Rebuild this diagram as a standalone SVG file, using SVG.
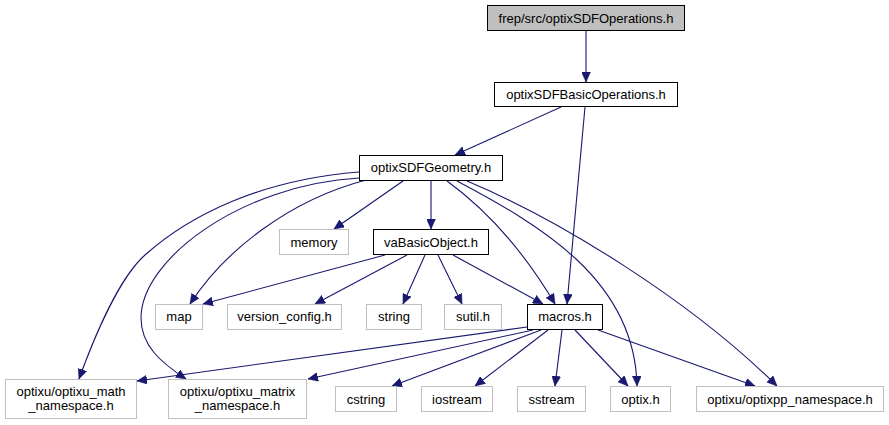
<svg xmlns="http://www.w3.org/2000/svg" width="889" height="425" viewBox="0 0 889 425">
<style>
.n rect{fill:#ffffff;stroke:#000000;stroke-width:1}
.x rect{fill:#ffffff;stroke:#bfbfbf;stroke-width:1}
.g rect{fill:#bfbfbf;stroke:#000000;stroke-width:1}
text{font-family:"Liberation Sans",Arial,Helvetica,sans-serif;font-size:13px;fill:#000000;text-anchor:middle}
#edges path{fill:none;stroke:#191970;stroke-width:1.1;marker-end:url(#ah)}
</style>
<defs>
<marker id="ah" viewBox="0 0 10 9" refX="10" refY="4.5" markerWidth="10" markerHeight="9" markerUnits="userSpaceOnUse" orient="auto">
<polygon points="0,0 10,4.5 0,9" fill="#191970" stroke="#191970" stroke-width="0.5"/>
</marker>
</defs>
<rect width="889" height="425" fill="#ffffff"/>
<g id="edges">
<path d="M586,31 L586,82"/>
<path d="M561,107 L455,155"/>
<path d="M585,107 L567,304"/>
<path d="M403,181 L334,229"/>
<path d="M431,180 L431,229"/>
<path d="M366,180 C290,200 225,250 190,304"/>
<path d="M359,172 C260,180 190,215 145,255 C120,277 95,335 79,379"/>
<path d="M359,178 C240,185 141,260 141,318 C141,345 160,362 186,379"/>
<path d="M447,181 C480,205 520,245 555,304"/>
<path d="M457,181 C540,225 635,280 637,386"/>
<path d="M467,181 C560,220 690,300 777,386"/>
<path d="M385,255 L203,304"/>
<path d="M407,255 L315,304"/>
<path d="M425,255 L403,304"/>
<path d="M438,255 L462,304"/>
<path d="M453,255 L543,304"/>
<path d="M527,327 L137,381"/>
<path d="M533,330 L308,379"/>
<path d="M541,330 L392,386"/>
<path d="M548,330 L475,386"/>
<path d="M562,330 L555,386"/>
<path d="M575,330 L628,386"/>
<path d="M598,330 L755,386"/>
</g>
<g id="n_ops" class="g"><rect x="487.5" y="5.5" width="197" height="25"/><text x="586" y="22.5">frep/src/optixSDFOperations.h</text></g>
<g id="n_basic" class="n"><rect x="494.5" y="82.5" width="183" height="24"/><text x="586" y="98.5">optixSDFBasicOperations.h</text></g>
<g id="n_geom" class="n"><rect x="359.5" y="155.5" width="143" height="25"/><text x="431" y="172">optixSDFGeometry.h</text></g>
<g id="n_vabasic" class="n"><rect x="373.5" y="229.5" width="115" height="25"/><text x="431" y="246.5">vaBasicObject.h</text></g>
<g id="n_memory" class="x"><rect x="279.5" y="229.5" width="69" height="25"/><text x="314" y="246.5">memory</text></g>
<g id="n_map" class="x"><rect x="155.5" y="304.5" width="47" height="25"/><text x="179" y="321">map</text></g>
<g id="n_version" class="x"><rect x="227.5" y="304.5" width="114" height="25"/><text x="284.5" y="321">version_config.h</text></g>
<g id="n_string" class="x"><rect x="366.5" y="304.5" width="55" height="25"/><text x="394" y="321">string</text></g>
<g id="n_sutil" class="x"><rect x="444.5" y="304.5" width="57" height="25"/><text x="473" y="321">sutil.h</text></g>
<g id="n_macros" class="n"><rect x="527.5" y="304.5" width="75" height="25"/><text x="565" y="321">macros.h</text></g>
<g id="n_math" class="x"><rect x="5.5" y="379.5" width="131" height="39"/><text x="71" y="395.5">optixu/optixu_math</text><text x="71" y="409.5">_namespace.h</text></g>
<g id="n_matrix" class="x"><rect x="168.5" y="379.5" width="138" height="39"/><text x="237.5" y="395.5">optixu/optixu_matrix</text><text x="237.5" y="409.5">_namespace.h</text></g>
<g id="n_cstring" class="x"><rect x="335.5" y="386.5" width="61" height="25"/><text x="366" y="403.5">cstring</text></g>
<g id="n_iostream" class="x"><rect x="421.5" y="386.5" width="71" height="25"/><text x="457" y="403.5">iostream</text></g>
<g id="n_sstream" class="x"><rect x="517.5" y="386.5" width="68" height="25"/><text x="551.5" y="403.5">sstream</text></g>
<g id="n_optix" class="x"><rect x="610.5" y="386.5" width="60" height="25"/><text x="640.5" y="403.5">optix.h</text></g>
<g id="n_optixpp" class="x"><rect x="696.5" y="386.5" width="187" height="25"/><text x="790" y="403.5">optixu/optixpp_namespace.h</text></g>
</svg>
